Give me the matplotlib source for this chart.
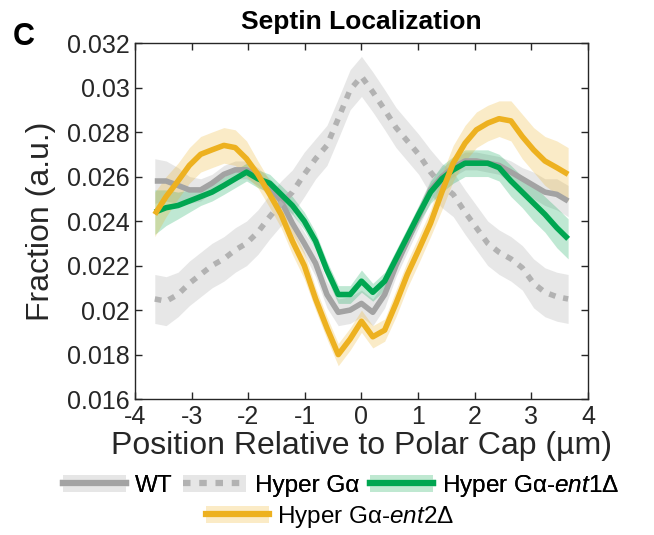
import numpy as np
import matplotlib
matplotlib.use('Agg')
import matplotlib.pyplot as plt
from matplotlib.lines import Line2D
from matplotlib.patches import Patch

plt.rcParams['font.family'] = ['Liberation Sans', 'DejaVu Sans']
plt.rcParams['mathtext.fontset'] = 'custom'
plt.rcParams['mathtext.rm'] = 'Liberation Sans'
plt.rcParams['mathtext.it'] = 'Liberation Sans:italic'

# posicion (um)
x = [-3.65, -3.45, -3.24, -3.04, -2.84, -2.64, -2.43, -2.23, -2.03, -1.83,
     -1.62, -1.42, -1.22, -1.01, -0.81, -0.61, -0.41, -0.20, 0.00, 0.20,
     0.41, 0.61, 0.81, 1.01, 1.22, 1.42, 1.62, 1.83, 2.03, 2.23,
     2.43, 2.64, 2.84, 3.04, 3.24, 3.45, 3.65]

wt = [0.0258, 0.0258, 0.0256, 0.0254, 0.0254, 0.0257, 0.0261, 0.0263, 0.0263, 0.0260,
      0.0255, 0.0249, 0.0239, 0.0230, 0.0221, 0.0207, 0.0199, 0.0200, 0.0203, 0.0199,
      0.0207, 0.0220, 0.0231, 0.0242, 0.0254, 0.0260, 0.0264, 0.0267, 0.0267, 0.0266,
      0.0265, 0.0262, 0.0259, 0.0256, 0.0253, 0.0252, 0.0249]
wt_sem = [0.0010, 0.0009, 0.0008, 0.0006, 0.0005, 0.0004, 0.0004, 0.0004, 0.0004, 0.0004,
          0.0004, 0.0005, 0.0005, 0.0005, 0.0006, 0.0006, 0.0006, 0.0006, 0.0006, 0.0006,
          0.0006, 0.0005, 0.0005, 0.0005, 0.0005, 0.0004, 0.0004, 0.0004, 0.0004, 0.0004,
          0.0004, 0.0005, 0.0005, 0.0006, 0.0006, 0.0007, 0.0007]

hyper = [0.0205, 0.0204, 0.0207, 0.0212, 0.0216, 0.0220, 0.0223, 0.0227, 0.0230, 0.0235,
         0.0242, 0.0248, 0.0253, 0.0261, 0.0268, 0.0274, 0.0286, 0.0299, 0.0305, 0.0298,
         0.0290, 0.0282, 0.0276, 0.0270, 0.0262, 0.0256, 0.0252, 0.0244, 0.0237, 0.0230,
         0.0226, 0.0223, 0.0219, 0.0212, 0.0208, 0.0206, 0.0205]
hyper_sem = [0.0011, 0.0011, 0.0010, 0.0010, 0.0010, 0.0010, 0.0010, 0.0010, 0.0010, 0.0010,
             0.0010, 0.0010, 0.0010, 0.0010, 0.0009, 0.0009, 0.0009, 0.0009, 0.0009, 0.0009,
             0.0009, 0.0009, 0.0009, 0.0009, 0.0010, 0.0010, 0.0010, 0.0010, 0.0010, 0.0010,
             0.0010, 0.0010, 0.0010, 0.0011, 0.0011, 0.0011, 0.0011]

ent1 = [0.0244, 0.0246, 0.0247, 0.0249, 0.0251, 0.0253, 0.0256, 0.0259, 0.0262, 0.0259,
        0.0257, 0.0252, 0.0247, 0.0240, 0.0231, 0.0218, 0.0207, 0.0207, 0.0213, 0.0208,
        0.0213, 0.0223, 0.0233, 0.0243, 0.0253, 0.0259, 0.0263, 0.0266, 0.0266, 0.0266,
        0.0264, 0.0258, 0.0253, 0.0248, 0.0243, 0.0237, 0.0232]
ent1_sem = [0.0010, 0.0008, 0.0006, 0.0005, 0.0004, 0.0004, 0.0004, 0.0004, 0.0004, 0.0004,
            0.0004, 0.0004, 0.0004, 0.0004, 0.0004, 0.0004, 0.0004, 0.0004, 0.0005, 0.0004,
            0.0004, 0.0004, 0.0004, 0.0004, 0.0005, 0.0006, 0.0006, 0.0006, 0.0006, 0.0006,
            0.0006, 0.0007, 0.0007, 0.0008, 0.0008, 0.0009, 0.0009]

ent2 = [0.0243, 0.0251, 0.0258, 0.0265, 0.0270, 0.0272, 0.0274, 0.0273, 0.0268, 0.0261,
        0.0252, 0.0243, 0.0231, 0.0220, 0.0205, 0.0192, 0.0180, 0.0187, 0.0195, 0.0188,
        0.0191, 0.0203, 0.0216, 0.0227, 0.0239, 0.0253, 0.0266, 0.0275, 0.0281, 0.0284,
        0.0286, 0.0285, 0.0278, 0.0272, 0.0267, 0.0264, 0.0261]
ent2_sem = [0.0010, 0.0009, 0.0008, 0.0008, 0.0008, 0.0008, 0.0008, 0.0008, 0.0008, 0.0006,
            0.0006, 0.0006, 0.0006, 0.0006, 0.0005, 0.0005, 0.0005, 0.0005, 0.0005, 0.0005,
            0.0005, 0.0006, 0.0006, 0.0006, 0.0006, 0.0008, 0.0008, 0.0008, 0.0008, 0.0008,
            0.0008, 0.0009, 0.0010, 0.0010, 0.0011, 0.0012, 0.0012]

yticks = [0.016, 0.018, 0.020, 0.022, 0.024, 0.026, 0.028, 0.030, 0.032]
ytick_labels = ['0.016', '0.018', '0.02', '0.022', '0.024', '0.026', '0.028', '0.03', '0.032']
xticks = [-4, -3, -2, -1, 0, 1, 2, 3, 4]

labels = ['WT', 'Hyper Gα', 'Hyper Gα-$\\mathit{ent1}$Δ', 'Hyper Gα-$\\mathit{ent2}$Δ']

gris_banda = '#d4d4d4'
c_wt = '#a3a3a3'
c_hyper = '#b2b2b2'
c_ent1 = '#00a651'
c_ent2 = '#edb120'
texto = '#262626'
# colores de banda en la leyenda (sin transparencia)
leg_bandas = ['#e6e6e6', '#e6e6e6', '#bfe8d1', '#fbebc6']

fig = plt.figure(figsize=(6.54, 5.35), dpi=100)
ax = fig.add_axes([0.2064, 0.254, 0.6926, 0.6656])

xa = np.array(x)
series = [
    (wt, wt_sem, gris_banda, 0.55, c_wt, '-'),
    (hyper, hyper_sem, gris_banda, 0.55, c_hyper, (0, (1.2, 1.4))),
    (ent1, ent1_sem, c_ent1, 0.25, c_ent1, '-'),
    (ent2, ent2_sem, c_ent2, 0.25, c_ent2, '-'),
]

# bandas primero
for m, s, cb, al, cl, ls in series:
    m = np.array(m)
    s = np.array(s)
    ax.fill_between(xa, m - s, m + s, color=cb, alpha=al, linewidth=0)

# lineas encima
for m, s, cb, al, cl, ls in series:
    ax.plot(xa, m, color=cl, linestyle=ls, linewidth=4, solid_capstyle='butt',
            dash_capstyle='butt')

ax.set_xlim(-4, 4)
ax.set_ylim(0.016, 0.032)
ax.set_xticks(xticks)
ax.set_xticklabels([str(t) for t in xticks])
ax.set_yticks(yticks)
ax.set_yticklabels(ytick_labels)
ax.tick_params(direction='in', length=5, width=1, colors=texto, labelsize=18,
               top=True, right=True, labeltop=False, labelright=False, pad=4)
for sp in ax.spines.values():
    sp.set_color(texto)
    sp.set_linewidth(1)

ax.set_xlabel('Position Relative to Polar Cap (µm)', fontsize=23, color=texto, labelpad=2)
ax.set_ylabel('Fraction (a.u.)', fontsize=23, color=texto, labelpad=8)
ax.set_title('Septin Localization', fontsize=19, fontweight='bold', pad=10)
fig.text(0.02, 0.915, 'C', fontsize=22, fontweight='bold')

# leyenda: banda + linea
handles = []
for (m, s, cb, al, cl, ls), lb in zip(series, leg_bandas):
    handles.append((Patch(facecolor=lb, edgecolor='none'),
                    Line2D([], [], color=cl, linestyle=ls, linewidth=4.5)))

opts = dict(loc='center', frameon=False, fontsize=17.5, handlelength=2.6,
            handleheight=0.75, handletextpad=0.35, borderpad=0, borderaxespad=0,
            labelcolor='black')
leg1 = fig.legend(handles[:3], labels[:3], bbox_to_anchor=(341 / 654, 1 - 486 / 535),
                  ncol=3, columnspacing=0.45, **opts)
fig.add_artist(leg1)
leg2 = fig.legend(handles[3:], labels[3:], bbox_to_anchor=(330 / 654, 1 - 517 / 535),
                  ncol=1, **opts)

fig.savefig('out.png', dpi=100)
